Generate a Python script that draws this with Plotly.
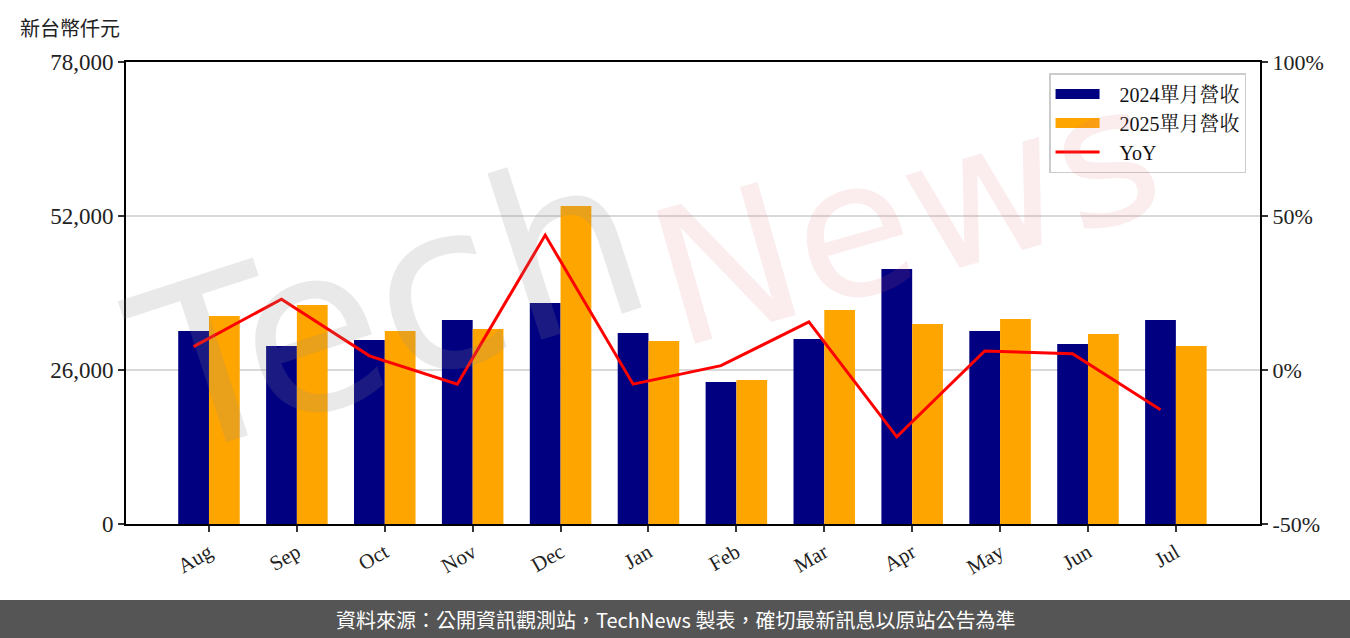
import plotly.graph_objects as go

months = ["Aug", "Sep", "Oct", "Nov", "Dec", "Jan", "Feb", "Mar", "Apr", "May", "Jun", "Jul"]
rev_2024 = [32580, 30050, 31070, 34440, 37310, 32250, 23970, 31230, 43050, 32580, 30390, 34440]
rev_2025 = [35120, 36970, 32580, 32920, 53690, 30900, 24310, 36130, 33770, 34610, 32080, 30050]
yoy_pct = [7.6, 23.0, 4.6, -4.6, 43.8, -4.6, 1.4, 15.6, -21.7, 6.2, 5.3, -12.9]

left_ticks = [0, 26000, 52000, 78000]
left_labels = ["0", "26,000", "52,000", "78,000"]
right_ticks = [-50, 0, 50, 100]
right_labels = ["-50%", "0%", "50%", "100%"]

idx = list(range(len(months)))
w = 0.35
x24 = [i - w / 2 for i in idx]
x25 = [i + w / 2 for i in idx]

serif = "Liberation Serif, Noto Serif CJK TC, Noto Sans CJK TC, serif"
cjk = "Noto Sans CJK TC, Noto Sans, sans-serif"
NAVY, ORANGE, RED = "#000080", "#FFA500", "#FF0000"
GAP = "\u00a0\u00a0\u00a0"

fig = go.Figure()
fig.add_trace(go.Bar(x=x24, y=rev_2024, width=w, name="2024單月營收", showlegend=False,
                     marker=dict(color=NAVY, line=dict(width=0))))
fig.add_trace(go.Bar(x=x25, y=rev_2025, width=w, name="2025單月營收", showlegend=False,
                     marker=dict(color=ORANGE, line=dict(width=0))))
fig.add_trace(go.Scatter(x=x24, y=yoy_pct, name="YoY", mode="lines", showlegend=False,
                         line=dict(color=RED, width=3), yaxis="y2"))
# legend entries (wide rectangles like the reference)
fig.add_trace(go.Scatter(x=[None], y=[None], name=GAP + "2024單月營收", mode="lines",
                         line=dict(color=NAVY, width=17)))
fig.add_trace(go.Scatter(x=[None], y=[None], name=GAP + "2025單月營收", mode="lines",
                         line=dict(color=ORANGE, width=17)))
fig.add_trace(go.Scatter(x=[None], y=[None], name=GAP + "YoY", mode="lines",
                         line=dict(color=RED, width=3)))

fig.update_layout(
    width=1350, height=638,
    margin=dict(l=126, r=90, t=62, b=114),
    plot_bgcolor="white", paper_bgcolor="white",
    barmode="overlay",
    showlegend=True,
    legend=dict(x=0.9877, y=0.976, xanchor="right", yanchor="top",
                bgcolor="rgba(255,255,255,0.85)", bordercolor="#cccccc", borderwidth=1.5,
                font=dict(family=serif, size=20, color="#111"),
                tracegroupgap=0, itemwidth=44),
    xaxis=dict(range=[-0.944, 11.957], tickvals=idx, ticktext=months, tickangle=-30,
               showgrid=False, zeroline=False, showline=True, linecolor="black", linewidth=2,
               mirror=True, ticks="outside", ticklen=6, tickwidth=2, tickcolor="#333",
               tickfont=dict(family=serif, size=21, color="#222")),
    yaxis=dict(range=[0, 78000], tickvals=left_ticks, ticktext=left_labels,
               showgrid=True, gridcolor="#d9d9d9", gridwidth=2, zeroline=False,
               showline=True, linecolor="black", linewidth=2,
               ticks="outside", ticklen=6, tickwidth=2, tickcolor="#333",
               tickfont=dict(family=serif, size=23, color="#222")),
    yaxis2=dict(range=[-50, 100], tickvals=right_ticks, ticktext=right_labels,
                overlaying="y", side="right", showgrid=False, zeroline=False,
                showline=True, linecolor="black", linewidth=2,
                ticks="outside", ticklen=6, tickwidth=2, tickcolor="#333",
                tickfont=dict(family=serif, size=22, color="#222")),
)

# watermark
fig.add_annotation(xref="paper", yref="paper", x=(390 - 126) / 1134, y=(524 - 305) / 462,
                   xanchor="center", yanchor="middle",
                   text="Tech", showarrow=False, textangle=-18,
                   font=dict(family="DejaVu Sans", size=230, color="rgba(140,140,140,0.19)"))
fig.add_annotation(xref="paper", yref="paper", x=(905 - 126) / 1134, y=(524 - 215) / 462,
                   xanchor="center", yanchor="middle",
                   text="News", showarrow=False, textangle=-16,
                   font=dict(family="DejaVu Sans", size=190, color="rgba(225,110,120,0.13)"))

# unit label
fig.add_annotation(xref="paper", yref="paper", x=(18 - 126) / 1134, y=(524 - 27) / 462,
                   xanchor="left", yanchor="middle", text="新台幣仟元", showarrow=False,
                   font=dict(family=cjk, size=20, color="#222"))

# footer bar
fig.add_shape(type="rect", xref="paper", yref="paper",
              x0=-126 / 1134, x1=(1350 - 126) / 1134,
              y0=(524 - 640) / 462, y1=(524 - 600) / 462,
              fillcolor="#555555", line=dict(width=0), layer="above")
fig.add_annotation(xref="paper", yref="paper", x=(675 - 126) / 1134, y=(524 - 619) / 462,
                   xanchor="center", yanchor="middle", showarrow=False,
                   text="資料來源：公開資訊觀測站，TechNews 製表，確切最新訊息以原站公告為準",
                   font=dict(family=cjk, size=20, color="white"))

fig.write_html("out.html", config={"displayModeBar": False},
               post_script="document.body.style.margin='0';document.body.style.overflow='hidden';")
